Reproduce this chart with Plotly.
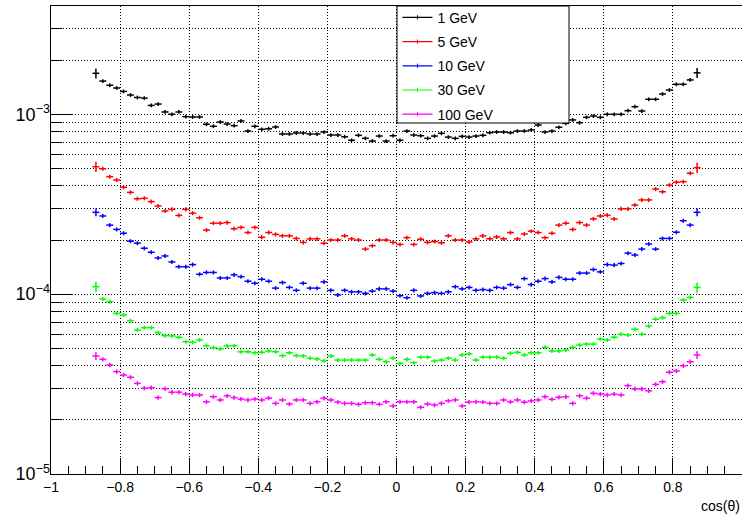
import math
import plotly.graph_objects as go

# Bin centres of cos(theta): 88 bins of width 0.02 between -0.88 and 0.88
bin_lo = -0.88
bin_width = 0.02
n_bins = 88
cos_theta = [round(bin_lo + bin_width * (i + 0.5), 4) for i in range(n_bins)]

e1 = [1.69e-3, 1.53e-3, 1.45e-3, 1.40e-3, 1.34e-3, 1.28e-3, 1.24e-3, 1.23e-3, 1.12e-3, 1.14e-3,
      1.03e-3, 1.00e-3, 1.03e-3, 0.970e-3, 0.966e-3, 0.966e-3, 0.880e-3, 0.858e-3, 0.906e-3, 0.883e-3,
      0.864e-3, 0.918e-3, 0.807e-3, 0.858e-3, 0.825e-3, 0.831e-3, 0.850e-3, 0.777e-3, 0.777e-3, 0.787e-3,
      0.787e-3, 0.777e-3, 0.777e-3, 0.797e-3, 0.767e-3, 0.767e-3, 0.750e-3, 0.717e-3, 0.764e-3, 0.735e-3,
      0.710e-3, 0.757e-3, 0.710e-3, 0.760e-3, 0.717e-3, 0.807e-3, 0.767e-3, 0.760e-3, 0.735e-3, 0.757e-3,
      0.784e-3, 0.747e-3, 0.735e-3, 0.754e-3, 0.747e-3, 0.757e-3, 0.764e-3, 0.790e-3, 0.797e-3, 0.797e-3,
      0.790e-3, 0.807e-3, 0.807e-3, 0.818e-3, 0.872e-3, 0.797e-3, 0.807e-3, 0.847e-3, 0.891e-3, 0.930e-3,
      0.898e-3, 0.962e-3, 0.978e-3, 0.962e-3, 1.00e-3, 1.00e-3, 1.00e-3, 1.047e-3, 1.102e-3, 1.043e-3,
      1.212e-3, 1.212e-3, 1.297e-3, 1.365e-3, 1.468e-3, 1.468e-3, 1.552e-3, 1.70e-3]

e5 = [5.11e-4, 4.98e-4, 4.50e-4, 4.31e-4, 3.93e-4, 3.68e-4, 3.39e-4, 3.41e-4, 3.27e-4, 3.09e-4,
      2.90e-4, 2.96e-4, 2.74e-4, 2.96e-4, 2.82e-4, 2.66e-4, 2.27e-4, 2.48e-4, 2.48e-4, 2.50e-4,
      2.31e-4, 2.35e-4, 2.20e-4, 2.35e-4, 2.07e-4, 2.20e-4, 2.15e-4, 2.11e-4, 2.11e-4, 2.04e-4,
      1.94e-4, 2.03e-4, 2.03e-4, 1.92e-4, 2.00e-4, 2.00e-4, 2.11e-4, 2.03e-4, 2.00e-4, 1.78e-4,
      1.86e-4, 2.00e-4, 2.00e-4, 1.94e-4, 1.89e-4, 2.06e-4, 1.89e-4, 2.02e-4, 1.94e-4, 1.96e-4,
      1.93e-4, 2.11e-4, 2.00e-4, 2.00e-4, 1.95e-4, 2.03e-4, 2.11e-4, 2.03e-4, 2.08e-4, 2.03e-4,
      2.20e-4, 2.03e-4, 2.16e-4, 2.24e-4, 2.20e-4, 2.06e-4, 2.18e-4, 2.42e-4, 2.48e-4, 2.29e-4,
      2.50e-4, 2.42e-4, 2.62e-4, 2.72e-4, 2.75e-4, 2.62e-4, 2.98e-4, 2.98e-4, 3.13e-4, 3.34e-4,
      3.34e-4, 3.84e-4, 3.71e-4, 4.04e-4, 4.19e-4, 4.22e-4, 4.70e-4, 5.05e-4]

e10 = [2.85e-4, 2.72e-4, 2.42e-4, 2.29e-4, 2.18e-4, 1.97e-4, 1.92e-4, 1.80e-4, 1.71e-4, 1.59e-4,
       1.63e-4, 1.51e-4, 1.42e-4, 1.42e-4, 1.46e-4, 1.29e-4, 1.32e-4, 1.32e-4, 1.23e-4, 1.23e-4,
       1.28e-4, 1.25e-4, 1.18e-4, 1.15e-4, 1.21e-4, 1.18e-4, 1.08e-4, 1.16e-4, 1.09e-4, 1.05e-4,
       1.15e-4, 1.08e-4, 1.08e-4, 1.17e-4, 1.05e-4, 0.99e-4, 1.05e-4, 1.03e-4, 1.03e-4, 1.01e-4,
       1.04e-4, 1.07e-4, 1.07e-4, 1.04e-4, 0.98e-4, 0.955e-4, 1.05e-4, 0.977e-4, 1.01e-4, 1.02e-4,
       1.01e-4, 1.03e-4, 1.10e-4, 1.07e-4, 1.09e-4, 1.05e-4, 1.06e-4, 1.05e-4, 1.09e-4, 1.08e-4,
       1.13e-4, 1.09e-4, 1.22e-4, 1.13e-4, 1.18e-4, 1.22e-4, 1.17e-4, 1.24e-4, 1.21e-4, 1.21e-4,
       1.31e-4, 1.31e-4, 1.37e-4, 1.33e-4, 1.46e-4, 1.45e-4, 1.48e-4, 1.69e-4, 1.65e-4, 1.78e-4,
       1.90e-4, 1.78e-4, 2.04e-4, 2.04e-4, 2.21e-4, 2.56e-4, 2.42e-4, 2.85e-4]

e30 = [1.10e-4, 9.40e-5, 9.08e-5, 7.82e-5, 7.66e-5, 7.12e-5, 6.32e-5, 6.51e-5, 6.51e-5, 6.11e-5,
       5.88e-5, 5.86e-5, 5.76e-5, 5.44e-5, 5.40e-5, 5.56e-5, 5.17e-5, 5.04e-5, 4.96e-5, 5.15e-5,
       5.17e-5, 4.78e-5, 4.78e-5, 4.72e-5, 4.75e-5, 4.83e-5, 4.78e-5, 4.55e-5, 4.72e-5, 4.55e-5,
       4.53e-5, 4.40e-5, 4.36e-5, 4.26e-5, 4.53e-5, 4.30e-5, 4.30e-5, 4.30e-5, 4.30e-5, 4.30e-5,
       4.59e-5, 4.34e-5, 4.21e-5, 4.40e-5, 4.12e-5, 4.34e-5, 4.16e-5, 4.46e-5, 4.46e-5, 4.25e-5,
       4.30e-5, 4.40e-5, 4.30e-5, 4.59e-5, 4.65e-5, 4.30e-5, 4.46e-5, 4.46e-5, 4.46e-5, 4.40e-5,
       4.69e-5, 4.75e-5, 4.59e-5, 4.72e-5, 4.72e-5, 5.06e-5, 4.83e-5, 4.83e-5, 4.89e-5, 5.06e-5,
       5.21e-5, 5.28e-5, 5.28e-5, 5.63e-5, 5.56e-5, 5.76e-5, 5.98e-5, 5.93e-5, 6.38e-5, 5.98e-5,
       6.65e-5, 7.25e-5, 7.40e-5, 7.82e-5, 7.82e-5, 9.28e-5, 9.60e-5, 1.09e-4]

e100 = [4.53e-5, 4.34e-5, 4.04e-5, 3.71e-5, 3.55e-5, 3.45e-5, 3.19e-5, 3.00e-5, 3.02e-5, 2.66e-5,
        2.98e-5, 2.85e-5, 2.85e-5, 2.78e-5, 2.75e-5, 2.75e-5, 2.52e-5, 2.69e-5, 2.58e-5, 2.72e-5,
        2.66e-5, 2.61e-5, 2.58e-5, 2.61e-5, 2.58e-5, 2.64e-5, 2.47e-5, 2.58e-5, 2.45e-5, 2.58e-5,
        2.58e-5, 2.47e-5, 2.52e-5, 2.64e-5, 2.58e-5, 2.51e-5, 2.47e-5, 2.47e-5, 2.44e-5, 2.49e-5,
        2.49e-5, 2.44e-5, 2.52e-5, 2.39e-5, 2.52e-5, 2.52e-5, 2.52e-5, 2.35e-5, 2.45e-5, 2.42e-5,
        2.47e-5, 2.55e-5, 2.58e-5, 2.39e-5, 2.51e-5, 2.52e-5, 2.51e-5, 2.47e-5, 2.47e-5, 2.58e-5,
        2.52e-5, 2.58e-5, 2.51e-5, 2.55e-5, 2.58e-5, 2.69e-5, 2.60e-5, 2.67e-5, 2.69e-5, 2.47e-5,
        2.72e-5, 2.64e-5, 2.81e-5, 2.78e-5, 2.75e-5, 2.78e-5, 2.75e-5, 3.10e-5, 2.97e-5, 2.97e-5,
        2.90e-5, 3.15e-5, 3.26e-5, 3.68e-5, 3.74e-5, 4.00e-5, 4.21e-5, 4.59e-5]

series_names = ["1 GeV", "5 GeV", "10 GeV", "30 GeV", "100 GeV"]
series_values = [e1, e5, e10, e30, e100]
series_colors = ["#000000", "#ff0000", "#0000ff", "#00ff00", "#ff00ff"]
# relative statistical errors: end bins / bulk bins
edge_rel_err = [0.065, 0.065, 0.05, 0.065, 0.05]
bulk_rel_err = [0.024, 0.026, 0.026, 0.026, 0.028]

x_ticks = [-1, -0.8, -0.6, -0.4, -0.2, 0, 0.2, 0.4, 0.6, 0.8, 1]
y_decades = [1e-5, 1e-4, 1e-3]
y_decade_labels = ["10<sup>\u22125</sup>", "10<sup>\u22124</sup>", "10<sup>\u22123</sup>"]
y_min, y_max = 1e-5, 4e-3

fig = go.Figure()

for name, vals, col, ee, eb in zip(series_names, series_values, series_colors, edge_rel_err, bulk_rel_err):
    n = len(vals)
    yerr = [v * (ee if (i == 0 or i == n - 1) else eb) for i, v in enumerate(vals)]
    fig.add_trace(go.Scatter(
        x=cos_theta[:n], y=vals, mode="markers", name=name, showlegend=False,
        marker=dict(size=6, color="rgba(0,0,0,0)", line=dict(width=0)),
        error_x=dict(type="constant", value=bin_width / 2, color=col, thickness=1.5, width=0),
        error_y=dict(type="data", array=yerr, color=col, thickness=1.5, width=0),
        hoverinfo="x+y",
    ))

for i, (name, col) in enumerate(zip(series_names, series_colors)):
    fig.add_trace(go.Scatter(
        x=[None], y=[None], mode="lines+markers", name=name, legendgroup="g%d" % i,
        line=dict(color=col, width=1.2),
        marker=dict(symbol="line-ns", size=3, color=col, line=dict(color=col, width=1)),
        showlegend=True,
    ))

# minor log ticks / grid positions
y_grid = []
for d in y_decades:
    for m in range(1, 10):
        v = d * m
        if v < y_max * 0.999:
            y_grid.append(v)

yr = [math.log10(y_min), math.log10(y_max)]

font_family = "Liberation Sans, Arial, Helvetica, sans-serif"

fig.update_layout(
    width=742, height=515,
    margin=dict(l=51, r=0, t=6, b=41, autoexpand=False),
    paper_bgcolor="white", plot_bgcolor="white",
    font=dict(family=font_family, color="black"),
    showlegend=True,
    legend=dict(
        x=0.5014, y=1.009, xanchor="left", yanchor="top",
        bgcolor="rgba(255,255,255,0)", borderwidth=0,
        font=dict(size=14, family=font_family),
        tracegroupgap=3, traceorder="grouped", itemwidth=30,
    ),
    xaxis=dict(
        range=[-1, 1], tickvals=x_ticks, ticks="inside", ticklen=16, tickcolor="black",
        showline=True, linecolor="black", linewidth=1, mirror=True,
        showgrid=True, gridcolor="#000", griddash="1px,2px", gridwidth=1,
        zeroline=False, tickfont=dict(size=14),
        minor=dict(dtick=0.05, tick0=-1, ticks="inside", ticklen=8, tickcolor="black", showgrid=False),
    ),
    yaxis=dict(
        type="log", range=yr, tickvals=y_grid, ticktext=["" for _ in y_grid],
        ticks="inside", ticklen=11, tickcolor="black",
        showline=True, linecolor="black", linewidth=1, mirror=True,
        showgrid=True, gridcolor="#000", griddash="1px,2px", gridwidth=1,
        zeroline=False,
    ),
    yaxis2=dict(
        type="log", range=yr, overlaying="y", side="left", anchor="x",
        tickvals=y_decades, ticktext=y_decade_labels,
        ticks="inside", ticklen=22, tickcolor="black", showgrid=False, showline=False,
        zeroline=False, tickfont=dict(size=18),
    ),
)

# dummy trace to activate yaxis2
fig.add_trace(go.Scatter(x=[None], y=[None], yaxis="y2", showlegend=False, hoverinfo="skip"))

# legend frame
fig.add_shape(type="rect", xref="paper", yref="paper",
              x0=(397 - 51) / 691, x1=(569 - 51) / 691, y0=(474 - 123) / 468, y1=1.0,
              line=dict(color="black", width=1), fillcolor="white", layer="above")

fig.add_annotation(text="cos(\u03b8)", xref="paper", yref="paper", x=1.0, y=0,
                   xanchor="right", yanchor="top", yshift=-22, showarrow=False,
                   font=dict(size=14, family=font_family))

fig.write_html("out.html", config={"displayModeBar": False},
               post_script="document.body.style.margin='0';")
